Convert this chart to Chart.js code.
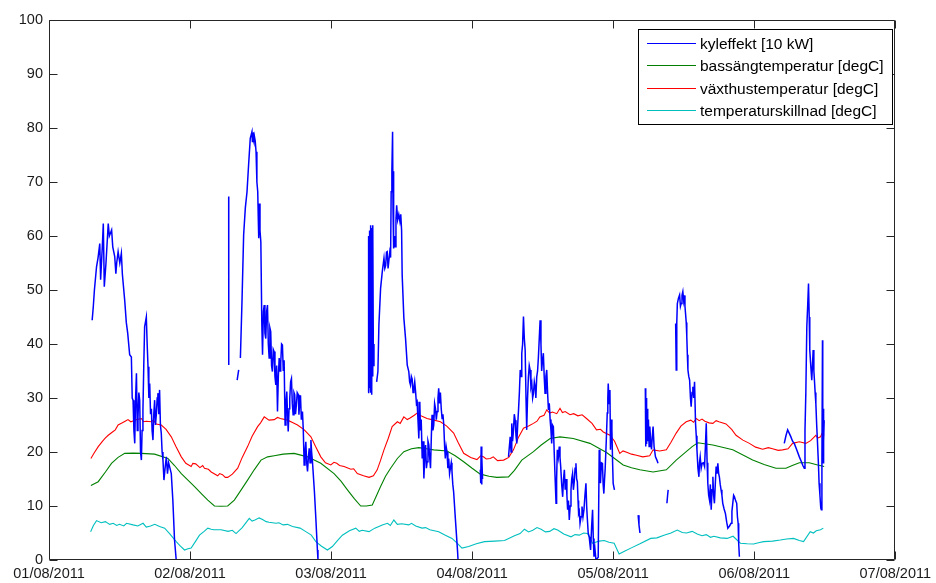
<!DOCTYPE html>
<html>
<head>
<meta charset="utf-8">
<script src="https://cdn.jsdelivr.net/npm/chart.js@4.4.0/dist/chart.umd.min.js"></script>
<style>
html,body{margin:0;padding:0;background:#fff;}
#wrap{position:relative;width:936px;height:583px;}
</style>
</head>
<body>
<div id="wrap"><canvas id="c" width="936" height="583"></canvas></div>
<script>
// ---- tick labels (x = days since 01/08/2011) ----
const xTickLabels = ['01/08/2011','02/08/2011','03/08/2011','04/08/2011','05/08/2011','06/08/2011','07/08/2011'];
const seriesLabels = ['kyleffekt [10 kW]','bassängtemperatur [degC]','växthustemperatur [degC]','temperaturskillnad [degC]'];

// ---- kyleffekt [10 kW], recorded in separate pieces (gaps between them) ----
const blueX1 = [0.306,0.314,0.322,0.337,0.348,0.36,0.366,0.378,0.385,0.392,0.404,0.42,0.428,0.444,0.452,0.466,0.474,0.48,0.49,0.502,0.513,0.52,0.537,0.548,0.558,0.572,0.584,0.59,0.596,0.602,0.608,0.614,0.62,0.626,0.631,0.637,0.643,0.649,0.655,0.66,0.666,0.672,0.678,0.69,0.696,0.702,0.708,0.714,0.72,0.726,0.731,0.737,0.743,0.749,0.755,0.761,0.767,0.772,0.778,0.784,0.79,0.796,0.802,0.808,0.815,0.823,0.832,0.84,0.848,0.855,0.867,0.878,0.89,0.902];
const blueY1 = [44.4,46.9,50,54.3,56,58.6,51.9,58,62.3,50.6,55,62.3,60,61.1,58,56.2,53,55,57.1,55,56.8,53,48,44,42,38,37.6,30,29.6,24,21.6,30,34.6,24,26.5,31,29.6,20,18.5,24,27.8,36,43.2,45,40,35.8,30,32.7,27,28,24,22.2,27,29.6,25,27,30,30.9,27,31.5,25,23.5,20,18.5,14.8,17,19.1,16,18,17.3,16.0,11.1,3.7,0];

const blueX2 = [1.274,1.2745];
const blueY2 = [67.3,36.1];

const blueX3 = [1.334,1.345];
const blueY3 = [33.3,35.2];

const blueX4 = [1.357,1.369,1.38,1.392,1.404,1.415,1.427,1.439,1.442,1.445,1.448,1.45,1.453,1.456,1.462,1.468,1.474,1.48,1.484,1.487,1.491,1.496,1.502,1.509,1.514,1.52,1.526,1.531,1.537,1.543,1.549,1.555,1.561,1.566,1.572,1.578,1.584,1.59,1.596,1.602,1.608,1.614,1.62,1.626,1.632,1.638,1.643,1.649,1.655,1.661,1.667,1.674,1.68,1.686,1.691,1.696,1.702,1.707,1.713,1.719,1.725,1.731,1.737,1.742,1.748,1.754,1.76,1.768,1.772,1.777,1.783,1.789,1.797,1.803,1.809,1.815,1.821,1.827,1.833,1.839,1.845,1.851,1.857,1.862,1.868,1.882,1.892,1.903,1.907];
const blueY4 = [37.4,48.5,60.2,65.2,68.2,73.1,78.1,79.3,77.5,79.1,78,79.2,77.6,78.5,77.6,75.6,70,68.2,63,59.6,66,61,58.9,43.5,38,46,47.2,42,41,46,47.2,40,37.4,43,42.3,36,34.9,39,38.6,34,32.4,36,27.5,34,37.4,35,36.5,40,39.8,35,37,25.0,29,31.2,27,23.8,28,29.9,33,33.6,29,26.9,31,30.6,27,28.7,31,30.6,26.9,29,30.5,26,27.5,24,17.6,20,21.9,18,16.4,19,20.7,18,22.2,20,18.2,12.6,7.7,1.85,0];

const blueX5 = [2.262,2.264,2.266,2.268,2.27,2.273,2.276,2.279,2.282,2.285,2.288,2.291,2.294,2.297,2.30,2.304];
const blueY5 = [31,58,31,60,32,61,33,62,31,61.5,30.6,58,34,62,36,40];

const blueX6 = [2.323,2.332,2.339,2.351,2.363,2.375,2.381,2.387,2.393,2.398,2.404,2.41,2.416,2.422,2.426,2.431,2.436,2.439,2.442,2.445,2.45,2.455,2.46,2.465,2.472,2.48,2.488,2.494,2.50,2.504,2.516,2.528,2.54,2.551,2.557,2.563,2.569,2.575,2.581,2.587,2.593,2.599,2.605,2.61,2.616,2.622,2.629,2.634,2.639,2.646,2.652,2.658,2.664,2.67,2.676,2.681,2.687,2.693,2.699,2.705,2.711,2.716,2.722,2.728,2.734,2.74,2.746,2.752,2.758,2.763,2.769,2.775,2.781,2.787,2.793,2.799,2.805,2.81,2.816,2.822,2.828,2.834,2.84,2.846,2.852,2.857,2.863,2.869,2.881,2.897,2.9];
const blueY6 = [33,34.9,43.5,50.3,53.4,55.9,54,54.5,57,57.1,54,54,57,56,68.2,72,79.3,65,72,57.7,60,58,63,65.7,63,64,62.7,64,61,52.8,44.8,41,36.1,34.9,33,32.4,34,33.5,31,31.8,33,31.2,29,29.3,26,22.5,29.3,24,26,18.8,22,15.1,19,21.3,17,18.2,22,21.3,19,17.0,23,26.9,24,25,29,28.1,26,27.5,30,31.8,29,31,28,26.2,27,25,21,18.8,21,20,17,18.8,16,17.0,18,16.5,14,12.6,7.7,1.5,0];

const blueX7 = [3.058,3.061,3.064,3.067,3.07,3.074];
const blueY7 = [16.7,14.2,21,14,19,15];

const blueX8 = [3.258,3.264,3.27,3.276,3.281,3.287,3.293,3.299,3.305,3.311,3.317,3.323,3.329,3.335,3.341,3.347,3.352,3.358,3.364,3.37,3.376,3.382,3.387,3.393,3.399,3.405,3.411,3.417,3.423,3.429,3.435,3.441,3.447,3.452,3.458,3.464,3.47,3.476,3.482,3.488,3.493,3.499,3.505,3.511,3.517,3.523,3.529,3.535,3.541,3.547,3.553,3.559,3.564,3.57,3.576,3.582,3.588,3.595,3.599,3.604,3.611,3.618,3.623,3.628,3.635,3.642,3.648,3.654,3.66,3.666,3.672,3.677,3.683,3.689,3.695,3.701,3.706,3.712,3.718,3.724,3.73,3.736,3.741,3.746,3.751,3.755,3.76,3.765,3.772,3.779,3.786,3.793,3.8,3.807,3.812,3.816,3.823,3.83,3.835,3.84,3.847,3.854,3.859,3.864,3.871,3.878,3.894,3.901,3.906,3.91,3.917,3.924,3.929,3.934,3.939,3.943,3.951,3.958,3.962,3.965,3.971,3.977,3.981,3.986,3.991,3.996,4.0,4.009];
const blueY8 = [19.1,21,22.8,20,25.3,22,24,27,25.9,23,21.6,25,27.8,31,35.2,34,38.3,40,45.1,41,38.9,30,24.1,30,33.9,36,35.2,32,32.7,30,30.9,33,32,30,33.9,35,37.6,41,44.4,40,35,37,38.3,34,30.9,34,35.2,31,27.8,29,26,24,21.6,25,24.7,20,15.4,10.5,15,20.4,19,21,19,17.3,14,11.7,15,16.7,13,15,12,9.3,11,7.4,10,13,15,16.0,13,14.5,17,17.9,15,14.5,11,8.6,9,6.8,8,9.9,8,9.3,12,14.2,10,8.0,5,4.3,3,1.85,6,9.3,4,0.6,2,0,0.5,20.4,16,14.2,18,17.9,14,12.3,15,16.7,22,27.2,30,32.7,29,31.5,20.4,26,24.1,18,14.2,13];

const blueX9 = [4.177,4.183,4.19];
const blueY9 = [8.3,6.5,5.0];

const blueX10 = [4.228,4.231,4.234,4.237,4.241,4.245,4.25,4.255,4.26,4.266,4.272,4.278,4.283,4.29,4.30,4.31,4.318];
const blueY10 = [31.8,21,30,21.5,28,22,26,21,24.7,22,20.5,23,24.7,21,19.1,18.5,17.9];

const blueX11 = [4.381,4.386,4.39];
const blueY11 = [10.5,12,13.0];

const blueX12 = [4.443,4.447,4.451,4.455,4.463,4.471,4.477,4.482,4.488,4.494,4.5,4.505,4.509,4.513,4.518,4.522,4.526,4.53,4.536,4.542,4.548,4.553,4.559,4.565,4.571,4.577,4.584,4.589,4.594,4.601,4.608,4.612,4.617,4.624,4.631,4.64,4.648,4.654,4.66,4.666,4.671,4.677,4.683,4.689,4.695,4.701,4.707,4.712,4.718,4.724,4.73,4.736,4.742,4.748,4.753,4.759,4.765,4.771,4.777,4.786,4.796,4.805,4.813,4.825,4.836,4.842,4.848,4.854,4.86,4.868,4.876,4.881,4.886,4.89,4.895];
const blueY12 = [43.8,35.2,44,47.5,48.5,49.1,47,47.5,49,49.7,48,49,47,45.7,44,41.4,38,35.2,34,33.3,30,28.4,31,32.1,30,33.0,25.3,23,20.4,17,15.4,18,19.1,17,17.9,18,17.3,21,25.3,18,14.2,12,11.1,14,9.3,13,15.4,12,10.5,14,17.3,16,17.9,16,15.4,14,13.0,12,10.5,9.5,8.6,7,5.9,6.3,6.8,9,10.5,12,11.7,11,10.5,8,6.8,3,0.6];

const blueX13 = [5.213,5.225,5.237,5.248,5.26,5.272,5.284,5.3,5.32,5.333,5.345,5.355,5.36,5.366,5.373,5.379,5.385,5.39,5.394,5.401,5.408,5.413,5.418,5.423,5.427,5.432,5.437,5.443,5.449,5.455,5.46,5.466,5.472,5.476,5.48,5.484,5.486,5.488,5.49,5.492,5.494,5.496];
const blueY13 = [21.6,23,24.1,23.5,22.8,22,21.6,20.5,19.1,18.3,17.5,17.0,24,30.9,43.2,47,51.2,45,38.9,36,33.3,36,38.9,35,33.3,31,29.0,25,21.6,18,14.2,12,9.6,9.3,18,40.7,29.0,18,28,20,22,25.9];

const blueXs = [blueX1,blueX2,blueX3,blueX4,blueX5,blueX6,blueX7,blueX8,blueX9,blueX10,blueX11,blueX12,blueX13];
const blueYs = [blueY1,blueY2,blueY3,blueY4,blueY5,blueY6,blueY7,blueY8,blueY9,blueY10,blueY11,blueY12,blueY13];

// ---- bassängtemperatur [degC] ----
const greenX = [0.297,0.349,0.40,0.443,0.49,0.537,0.60,0.655,0.749,0.843,0.89,0.938,0.985,1.032,1.08,1.126,1.173,1.22,1.267,1.314,1.36,1.408,1.455,1.503,1.55,1.597,1.66,1.738,1.833,1.927,2.021,2.07,2.116,2.163,2.21,2.25,2.292,2.32,2.351,2.386,2.422,2.47,2.516,2.57,2.622,2.675,2.728,2.822,2.88,2.94,3.0,3.058,3.12,3.175,3.258,3.30,3.352,3.435,3.49,3.553,3.623,3.717,3.835,3.953,4.01,4.071,4.13,4.189,4.283,4.377,4.447,4.518,4.56,4.60,4.707,4.848,4.989,5.07,5.154,5.225,5.27,5.32,5.39,5.45,5.496];
const greenY = [13.8,14.5,16.3,17.9,19.0,19.75,19.8,19.75,19.6,18.8,17.5,16.0,14.8,13.6,12.3,11.1,10.0,9.95,10.0,11.1,12.9,14.8,16.7,18.5,19.1,19.3,19.6,19.75,19.1,17.9,16.0,14.6,13.0,11.4,10.0,10.0,10.2,11.8,13.6,15.5,17.0,18.8,20.06,20.6,20.8,20.6,20.4,20.2,19.3,18.2,17.0,15.9,15.5,15.3,15.4,16.6,18.5,20.06,21.3,22.5,22.8,22.5,21.6,19.9,18.8,17.6,17.1,16.7,16.3,16.7,18.5,20.06,21.0,21.7,21.3,20.4,18.5,17.7,17.0,17.0,17.5,18.0,18.0,17.6,17.3];

// ---- växthustemperatur [degC] ----
const redX = [0.297,0.32,0.349,0.38,0.40,0.42,0.45,0.47,0.49,0.52,0.54,0.56,0.58,0.60,0.62,0.655,0.67,0.69,0.726,0.74,0.76,0.796,0.83,0.867,0.90,0.938,0.97,1.008,1.02,1.04,1.07,1.09,1.102,1.13,1.15,1.196,1.21,1.23,1.25,1.267,1.30,1.338,1.37,1.408,1.44,1.479,1.50,1.526,1.56,1.597,1.62,1.64,1.691,1.73,1.762,1.81,1.857,1.89,1.927,1.96,1.998,2.02,2.04,2.06,2.092,2.14,2.16,2.186,2.23,2.269,2.30,2.327,2.35,2.375,2.405,2.433,2.47,2.49,2.516,2.54,2.56,2.59,2.61,2.645,2.68,2.73,2.775,2.82,2.869,2.90,2.94,2.99,3.034,3.06,3.08,3.10,3.129,3.15,3.18,3.223,3.26,3.293,3.33,3.364,3.40,3.435,3.46,3.48,3.51,3.529,3.55,3.57,3.60,3.623,3.64,3.66,3.694,3.72,3.75,3.78,3.811,3.85,3.882,3.91,3.93,3.977,4.01,4.047,4.07,4.10,4.13,4.165,4.21,4.259,4.283,4.33,4.377,4.41,4.447,4.48,4.518,4.55,4.57,4.589,4.61,4.63,4.65,4.68,4.707,4.73,4.75,4.80,4.84,4.871,4.92,4.966,5.01,5.06,5.10,5.13,5.17,5.201,5.24,5.272,5.32,5.366,5.40,5.437,5.45,5.47,5.48,5.496];
const redY = [18.8,19.8,21.0,22.0,22.6,23.1,23.7,24.1,25.0,25.4,25.7,26.0,25.6,25.8,26.0,26.2,25.6,25.7,25.6,25.9,25.2,25.0,24.2,22.8,21.0,19.1,17.9,17.3,17.9,17.8,17.1,17.5,17.0,16.8,16.3,15.6,16.0,15.8,15.3,15.3,15.9,17.0,19.0,21.0,22.9,24.7,25.4,26.5,25.9,26.0,26.4,26.2,25.9,25.4,25.0,24.1,22.8,21.0,19.1,18.0,17.6,18.1,17.9,17.5,17.3,16.8,16.9,16.0,15.6,15.3,15.6,16.7,18.4,20.4,22.5,24.7,25.6,25.3,26.5,26.0,26.3,26.8,27.2,26.6,26.2,25.9,25.6,24.8,23.5,21.8,19.75,19.0,18.6,19.3,19.1,18.7,18.8,19.1,18.4,18.5,19.0,20.4,22.8,24.4,24.8,25.3,25.7,26.5,26.8,27.8,27.2,27.4,27.1,28.1,27.3,27.5,26.9,27.1,26.7,26.9,26.2,25.3,24.1,24.2,23.7,23.1,22.0,19.75,20.2,19.9,19.6,19.4,19.1,19.3,20.4,20.2,20.4,21.8,23.5,24.8,25.6,25.9,25.5,26.2,25.8,26.1,25.7,25.4,25.3,25.8,25.6,25.2,24.2,23.1,22.2,21.6,20.9,20.5,20.8,20.6,20.3,20.4,20.6,21.6,21.9,21.6,22.1,23.1,22.6,22.8,23.4,23.1];

// ---- temperaturskillnad [degC] ----
const cyanX = [0.295,0.315,0.337,0.37,0.40,0.43,0.455,0.48,0.50,0.53,0.55,0.596,0.63,0.667,0.69,0.72,0.75,0.784,0.82,0.855,0.902,0.93,0.961,0.985,1.008,1.04,1.067,1.10,1.126,1.15,1.17,1.22,1.27,1.3,1.326,1.37,1.42,1.44,1.46,1.49,1.514,1.54,1.56,1.609,1.63,1.66,1.69,1.727,1.78,1.821,1.86,1.892,1.93,1.974,2.009,2.045,2.08,2.13,2.175,2.2,2.22,2.269,2.31,2.363,2.40,2.42,2.445,2.47,2.50,2.551,2.57,2.60,2.645,2.67,2.70,2.763,2.81,2.857,2.89,2.928,2.975,3.03,3.088,3.16,3.23,3.30,3.34,3.371,3.40,3.43,3.46,3.489,3.52,3.55,3.58,3.606,3.65,3.701,3.73,3.76,3.79,3.818,3.854,3.90,3.936,3.97,4.007,4.042,4.08,4.125,4.19,4.266,4.31,4.36,4.41,4.454,4.49,4.52,4.56,4.596,4.63,4.66,4.69,4.714,4.76,4.808,4.85,4.902,4.95,4.996,5.03,5.067,5.13,5.185,5.23,5.279,5.32,5.35,5.397,5.42,5.44,5.47,5.49];
const cyanY = [5.25,6.4,7.3,6.9,7.1,6.6,6.8,6.4,6.6,6.3,6.8,6.5,6.3,6.8,6.1,6.3,6.6,6.2,5.9,4.9,3.4,2.6,1.85,2.1,2.2,3.5,4.6,5.3,5.9,5.7,5.6,5.6,5.3,5.5,4.9,6.0,7.7,7.2,7.4,7.8,7.5,7.1,7.0,6.8,6.9,6.5,6.6,6.2,5.9,5.25,4.6,3.4,2.6,1.85,2.5,3.6,4.6,5.4,5.9,5.3,5.5,5.25,5.9,6.5,6.8,6.4,7.4,6.6,6.7,6.5,6.8,6.3,5.9,6.0,5.6,5.25,4.6,4.0,3.2,2.2,2.5,3.0,3.4,3.5,3.6,4.5,4.9,5.7,5.2,5.5,6.0,5.7,5.2,5.3,5.8,5.55,4.8,4.3,4.7,4.6,5.0,4.9,3.1,3.5,3.6,3.3,3.1,1.1,1.6,2.2,3.0,4.0,4.1,4.6,5.0,5.55,5.1,5.0,5.3,4.8,4.5,4.7,4.2,4.4,4.1,4.0,4.4,3.1,3.0,2.96,3.2,3.4,3.5,3.7,3.9,4.0,3.6,3.4,5.25,5.0,5.4,5.6,5.9];

const seriesColors = ['#0000ff','#008000','#ff0000','#00bfbf'];

function pts(xs, ys){
  if (xs.length !== ys.length) throw new Error('length mismatch ' + xs.length + ' vs ' + ys.length);
  return xs.map((x,i)=>({x:x, y:ys[i]}));
}
// join the recorded pieces of kyleffekt, leaving a gap between pieces
function joinPieces(xsList, ysList){
  const out = [];
  xsList.forEach((xs,k)=>{
    if (k > 0) out.push({x: (xsList[k-1][xsList[k-1].length-1] + xs[0]) / 2, y: null});
    pts(xs, ysList[k]).forEach(p=>out.push(p));
  });
  return out;
}

const AXIS = '#262626';
const FONT = "'Liberation Sans', Arial, Helvetica, sans-serif";

const boxPlugin = {
  id: 'matlabBox',
  afterDraw(chart){
    const ctx = chart.ctx, a = chart.chartArea;
    const xs = chart.scales.x, ys = chart.scales.y;
    const L = Math.round(a.left)+0.5, R = Math.round(a.right)-0.5, T = Math.round(a.top)+0.5, B = Math.round(a.bottom)-0.5;
    ctx.save();
    ctx.strokeStyle = AXIS; ctx.lineWidth = 1;
    ctx.beginPath();
    ctx.moveTo(L,T); ctx.lineTo(R,T); ctx.lineTo(R,B); ctx.lineTo(L,B); ctx.closePath();
    const tl = 8;
    xs.ticks.forEach(t=>{
      const p = Math.round(xs.getPixelForValue(t.value))+0.5;
      ctx.moveTo(p,B); ctx.lineTo(p,B-tl);
      ctx.moveTo(p,T); ctx.lineTo(p,T+tl);
    });
    ys.ticks.forEach(t=>{
      const p = Math.round(ys.getPixelForValue(t.value))+0.5;
      ctx.moveTo(L,p); ctx.lineTo(L+tl,p);
      ctx.moveTo(R,p); ctx.lineTo(R-tl,p);
    });
    ctx.stroke();

    // legend box (top-right inside the axes)
    const lx = 638.5, ly = 29.5, lw = 254, lh = 95;
    ctx.fillStyle = '#fff';
    ctx.fillRect(lx, ly, lw, lh);
    ctx.strokeStyle = '#000';
    ctx.strokeRect(lx, ly, lw, lh);
    ctx.font = '15.5px ' + FONT;
    ctx.textBaseline = 'middle';
    ctx.textAlign = 'left';
    chart.data.datasets.forEach((ds,i)=>{
      const yy = Math.round(43 + i*22.3) + 0.5;
      ctx.strokeStyle = ds.borderColor; ctx.lineWidth = 1.2;
      ctx.beginPath(); ctx.moveTo(647, yy); ctx.lineTo(696, yy); ctx.stroke();
      ctx.fillStyle = '#000';
      ctx.fillText(ds.label, 700, yy+1);
    });
    ctx.restore();
  }
};

new Chart(document.getElementById('c'), {
  type: 'line',
  data: {
    datasets: [
      {label: seriesLabels[0], data: joinPieces(blueXs, blueYs), borderColor: seriesColors[0], borderWidth: 1.5, spanGaps: false},
      {label: seriesLabels[1], data: pts(greenX, greenY), borderColor: seriesColors[1], borderWidth: 1.1},
      {label: seriesLabels[2], data: pts(redX, redY), borderColor: seriesColors[2], borderWidth: 1.1},
      {label: seriesLabels[3], data: pts(cyanX, cyanY), borderColor: seriesColors[3], borderWidth: 1.1}
    ]
  },
  options: {
    responsive: false,
    devicePixelRatio: 1,
    animation: false,
    elements: { point: { radius: 0, hoverRadius: 0 }, line: { tension: 0, fill: false } },
    layout: { padding: { top: 20, right: 38, left: 0, bottom: 0 } },
    plugins: { legend: { display: false }, tooltip: { enabled: false } },
    scales: {
      x: {
        type: 'linear', min: 0, max: 6,
        grid: { display: false, drawTicks: false },
        border: { display: false },
        ticks: {
          stepSize: 1, autoSkip: false, maxRotation: 0, padding: 5,
          color: '#1a1a1a', font: { family: FONT, size: 14.5 },
          callback: (v)=> xTickLabels[Math.round(v)]
        },
        afterFit(s){ s.height = 23; }
      },
      y: {
        min: 0, max: 100,
        grid: { display: false, drawTicks: false },
        border: { display: false },
        ticks: {
          stepSize: 10, padding: 6,
          color: '#1a1a1a', font: { family: FONT, size: 14.5 }
        },
        afterFit(s){ s.width = 49; }
      }
    }
  },
  plugins: [boxPlugin]
});
</script>
</body>
</html>
